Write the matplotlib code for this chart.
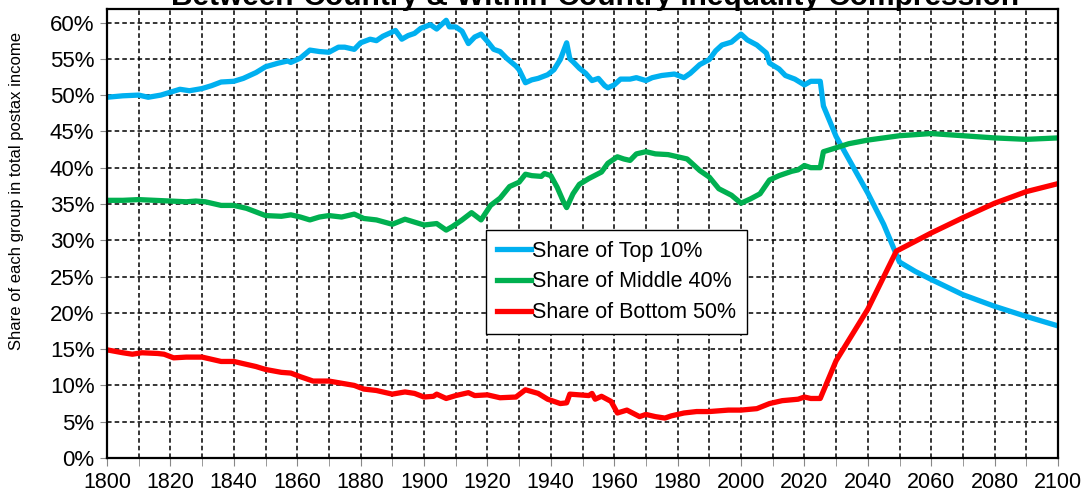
import numpy as np
import matplotlib
matplotlib.use("Agg")
import matplotlib.pyplot as plt
from matplotlib.ticker import MultipleLocator, FuncFormatter

plt.rcParams['font.family'] = ['Liberation Sans', 'DejaVu Sans']

# share of top 10% (in %)
top_years = [1800, 1805, 1810, 1813, 1817, 1820, 1823, 1826, 1830, 1833, 1836, 1840, 1843, 1847,
             1850, 1854, 1857, 1858, 1861, 1864, 1867, 1870, 1873, 1875, 1878, 1880, 1883, 1885,
             1887, 1891, 1893, 1895, 1897, 1899, 1902, 1904, 1907, 1908, 1910, 1912, 1914, 1916,
             1918, 1920, 1922, 1924, 1926, 1929, 1930, 1932, 1934, 1936, 1939, 1941, 1943, 1945,
             1946, 1947, 1949, 1951, 1953, 1955, 1957, 1958, 1960, 1962, 1965, 1967, 1970, 1972,
             1975, 1977, 1979, 1982, 1984, 1987, 1990, 1992, 1994, 1997, 2000, 2002, 2005, 2008,
             2009, 2012, 2014, 2017, 2020, 2022, 2025, 2026, 2030, 2035, 2040, 2045, 2050, 2055,
             2060, 2070, 2080, 2090, 2100]
top10 = [49.7, 49.9, 50.0, 49.7, 50.0, 50.4, 50.8, 50.6, 50.9, 51.3, 51.8, 51.9, 52.3, 53.1,
         53.9, 54.4, 54.7, 54.5, 55.1, 56.2, 56.0, 55.9, 56.6, 56.6, 56.3, 57.2, 57.7, 57.5,
         58.1, 58.9, 57.7, 58.2, 58.5, 59.2, 59.7, 59.1, 60.3, 59.4, 59.4, 58.8, 57.1, 58.0,
         58.4, 57.4, 56.3, 56.0, 55.1, 54.0, 53.5, 51.7, 52.1, 52.3, 52.8, 53.5, 54.9, 57.2,
         55.0, 54.6, 53.7, 53.0, 52.0, 52.3, 51.3, 51.0, 51.4, 52.2, 52.2, 52.4, 52.0, 52.4,
         52.7, 52.8, 52.9, 52.4, 53.0, 54.2, 54.9, 56.1, 56.9, 57.3, 58.4, 57.6, 56.9, 55.8,
         54.4, 53.6, 52.7, 52.2, 51.4, 51.9, 51.9, 48.5, 44.3, 40.4, 36.5, 32.2, 27.0, 25.7,
         24.6, 22.5, 20.9, 19.5, 18.2]

# share of middle 40%
mid_years = [1800, 1805, 1810, 1815, 1820, 1825, 1828, 1831, 1836, 1840, 1844, 1847, 1850, 1855,
             1858, 1861, 1864, 1867, 1870, 1874, 1878, 1881, 1885, 1890, 1894, 1897, 1900, 1904,
             1907, 1909, 1912, 1915, 1918, 1921, 1924, 1927, 1930, 1932, 1934, 1937, 1938, 1940,
             1942, 1944, 1945, 1947, 1949, 1952, 1956, 1958, 1961, 1963, 1965, 1967, 1970, 1973,
             1977, 1980, 1983, 1987, 1990, 1993, 1997, 2000, 2003, 2006, 2009, 2012, 2016, 2018,
             2020, 2022, 2025, 2026, 2029, 2034, 2040, 2050, 2060, 2070, 2080, 2090, 2100]
mid40 = [35.5, 35.5, 35.6, 35.5, 35.4, 35.3, 35.4, 35.3, 34.8, 34.8, 34.4, 33.9, 33.4, 33.3,
         33.5, 33.2, 32.8, 33.2, 33.4, 33.2, 33.6, 33.0, 32.8, 32.2, 32.9, 32.5, 32.1, 32.3,
         31.4, 31.9, 32.8, 33.8, 32.8, 34.8, 35.8, 37.4, 38.0, 39.1, 38.9, 38.8, 39.2, 38.9,
         37.3, 35.3, 34.5, 36.4, 37.7, 38.5, 39.4, 40.6, 41.5, 41.2, 41.0, 41.9, 42.2, 41.9,
         41.8, 41.5, 41.2, 39.6, 38.7, 37.1, 36.2, 35.1, 35.7, 36.4, 38.3, 38.9, 39.5, 39.7,
         40.3, 40.0, 40.0, 42.2, 42.6, 43.3, 43.8, 44.4, 44.7, 44.4, 44.1, 43.9, 44.1]

# share of bottom 50%
bot_years = [1800, 1805, 1808, 1811, 1816, 1818, 1821, 1825, 1830, 1833, 1836, 1840, 1843, 1847,
             1850, 1855, 1858, 1861, 1865, 1870, 1874, 1878, 1881, 1885, 1890, 1894, 1897, 1900,
             1903, 1904, 1907, 1910, 1914, 1916, 1920, 1924, 1929, 1932, 1936, 1939, 1943, 1945,
             1946, 1949, 1952, 1953, 1954, 1956, 1959, 1961, 1964, 1968, 1970, 1973, 1976, 1978,
             1982, 1986, 1990, 1996, 2000, 2005, 2009, 2013, 2018, 2020, 2022, 2025, 2030, 2040,
             2049, 2060, 2070, 2080, 2090, 2100]
bot50 = [14.9, 14.5, 14.3, 14.5, 14.4, 14.3, 13.8, 13.9, 13.9, 13.6, 13.3, 13.3, 13.0, 12.6,
         12.2, 11.8, 11.7, 11.2, 10.6, 10.6, 10.3, 10.0, 9.5, 9.3, 8.8, 9.1, 8.9, 8.4,
         8.5, 8.8, 8.2, 8.6, 9.0, 8.6, 8.7, 8.3, 8.4, 9.4, 8.9, 8.1, 7.5, 7.6,
         8.8, 8.7, 8.6, 8.9, 8.1, 8.5, 7.8, 6.2, 6.6, 5.7, 6.0, 5.7, 5.5, 5.8,
         6.2, 6.4, 6.4, 6.6, 6.6, 6.8, 7.5, 7.9, 8.1, 8.4, 8.2, 8.2, 13.4, 20.5,
         28.5, 31.0, 33.1, 35.1, 36.7, 37.8]

fig = plt.figure(figsize=(10.88, 5.01), dpi=100)
ax = fig.add_axes([107/1088, 1 - 458/501, 951/1088, 449/501])

ax.plot(top_years, top10, color='#00B0F0', lw=3.8, label='Share of Top 10%', solid_joinstyle='round')
ax.plot(mid_years, mid40, color='#00B050', lw=3.8, label='Share of Middle 40%', solid_joinstyle='round')
ax.plot(bot_years, bot50, color='#FF0000', lw=3.8, label='Share of Bottom 50%', solid_joinstyle='round')

ax.set_xlim(1800, 2100)
ax.set_ylim(0, 61.86)
ax.xaxis.set_major_locator(MultipleLocator(20))
ax.xaxis.set_minor_locator(MultipleLocator(10))
ax.set_yticks(np.arange(0, 61, 5))
ax.yaxis.set_major_formatter(FuncFormatter(lambda v, p: f"{v:.0f}%"))

ax.grid(True, which='both', axis='x', color='black', ls=(0, (3, 2)), lw=1.1)
ax.grid(True, which='major', axis='y', color='black', ls=(0, (3, 2)), lw=1.1)
ax.set_axisbelow(True)

ax.tick_params(axis='x', which='both', direction='out', length=6, color='#888888', labelsize=15.5, pad=4)
ax.tick_params(axis='y', direction='out', length=5, color='#888888', labelsize=16, pad=4)
for s in ax.spines.values():
    s.set_linewidth(1.6)
    s.set_color('black')

leg = ax.legend(loc='upper left', bbox_to_anchor=((486 - 107) / 951, (458 - 230) / 449),
                borderaxespad=0, fontsize=15.5, handlelength=1.6, handletextpad=0.05,
                labelspacing=0.45, borderpad=0.5, fancybox=False, framealpha=1, edgecolor='black')
leg.get_frame().set_linewidth(1.0)

fig.text(17/1088, 1 - 191.5/501, 'Share of each group in total postax income', rotation=90,
         ha='center', va='center', fontsize=12)
# title is clipped by the top edge, like in the original export
fig.text(595/1088, 1 - 5/501, 'Between-Country & Within-Country Inequality Compression',
         ha='center', va='baseline', fontsize=21.5, fontweight='bold')

fig.savefig('out.png', dpi=100)
